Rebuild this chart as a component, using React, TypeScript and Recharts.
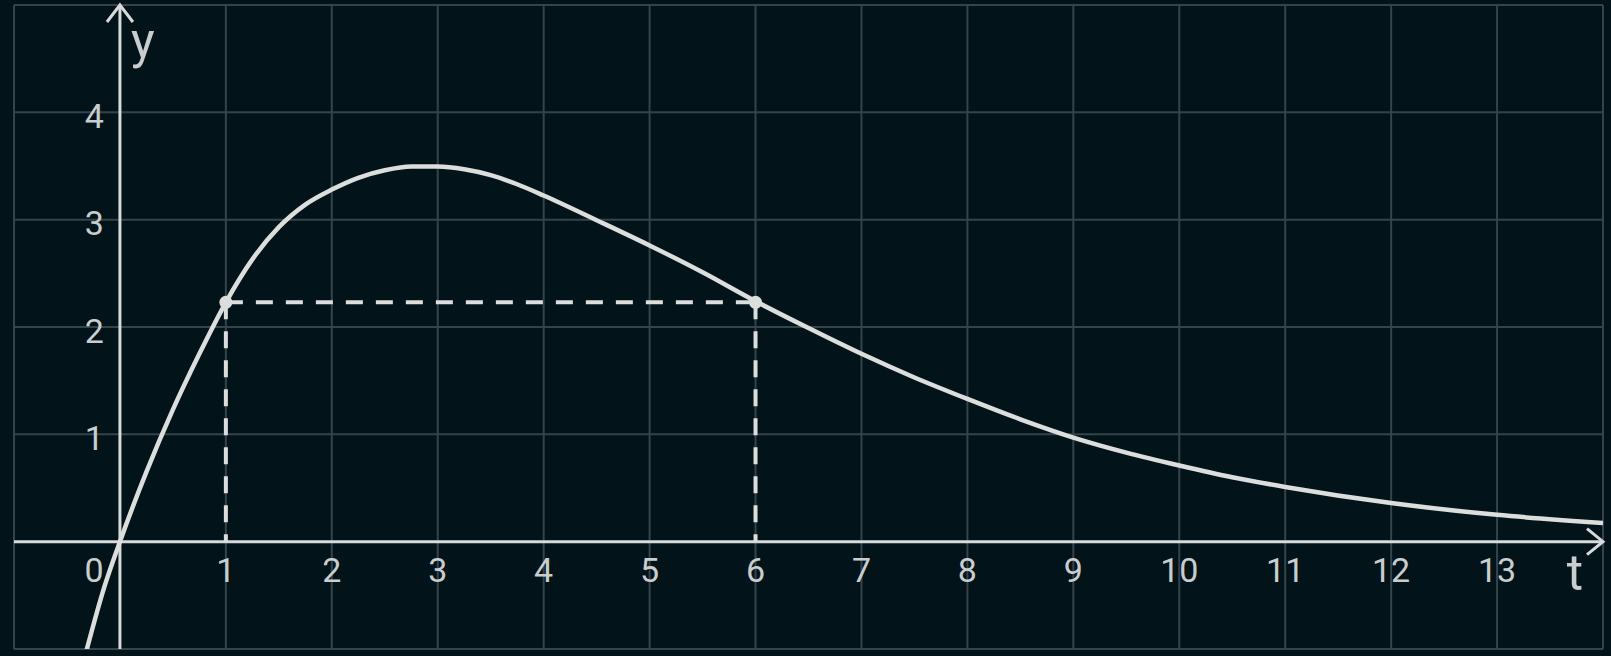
import {
  ComposedChart,
  Line,
  XAxis,
  YAxis,
  ReferenceLine,
  ReferenceDot,
} from 'recharts'

// curve y(t)
const tValues = [-0.32, -0.15, 0, 0.25, 0.5, 0.75, 1, 1.25, 1.5, 1.75, 2, 2.25, 2.5, 2.75, 3, 3.25, 3.5, 3.75, 4, 4.5, 5, 5.5, 6, 6.5, 7, 7.5, 8, 8.5, 9, 9.5, 10, 10.5, 11, 12, 13, 14]
const yValues = [-1.03, -0.43, 0, 0.65, 1.23, 1.75, 2.23, 2.63, 2.93, 3.14, 3.28, 3.39, 3.46, 3.495, 3.495, 3.47, 3.415, 3.33, 3.225, 2.995, 2.76, 2.51, 2.24, 1.99, 1.75, 1.53, 1.33, 1.14, 0.97, 0.83, 0.71, 0.6, 0.51, 0.36, 0.25, 0.175]

// marked points with the same value
const markT = [1, 6]
const markY = 2.23

const xGrid = [-1, 0, 1, 2, 3, 4, 5, 6, 7, 8, 9, 10, 11, 12, 13, 14]
const yGrid = [-1, 0, 1, 2, 3, 4, 5]
const xTickLabels = ['0', '1', '2', '3', '4', '5', '6', '7', '8', '9', '10', '11', '12', '13']
const yTickLabels = ['1', '2', '3', '4']

const BG = '#03131a'
const GRID = '#34444a'
const AXIS = '#d6dada'
const CURVE = '#dcdede'
const TEXT = '#c9cdcd'
const FONT = 'Roboto, "Open Sans", sans-serif'

const curve = tValues.map((t, i) => ({ t, y: yValues[i] }))

const textShape = (text: string, dx: number, dy: number, size: number, anchor: string = 'middle') =>
  (p: any) => (
    <text
      x={p.cx + dx}
      y={p.cy + dy}
      fill={TEXT}
      fontSize={size}
      fontFamily={FONT}
      textAnchor={anchor}
    >
      {text}
    </text>
  )

const yArrow = (p: any) => (
  <polyline
    points={`${p.cx - 13},${p.cy + 17} ${p.cx},${p.cy} ${p.cx + 13},${p.cy + 17}`}
    fill="none"
    stroke={AXIS}
    strokeWidth={3}
  />
)

const xArrow = (p: any) => (
  <polyline
    points={`${p.cx - 16},${p.cy - 13} ${p.cx},${p.cy} ${p.cx - 16},${p.cy + 13}`}
    fill="none"
    stroke={AXIS}
    strokeWidth={3}
  />
)

export default function App() {
  return (
    <div style={{ position: 'absolute', left: 0, top: 0, width: 1611, height: 656, background: BG }}>
      <ComposedChart width={1611} height={656} data={curve} margin={{ top: 5, right: 8, bottom: 7, left: 14 }}>
        <XAxis type="number" dataKey="t" domain={[-1, 14]} ticks={xGrid} allowDataOverflow hide />
        <YAxis type="number" domain={[-1, 5]} ticks={yGrid} allowDataOverflow hide />

        {/* grid */}
        {xGrid.map((v) => (
          <ReferenceLine key={`gx${v}`} x={v} stroke={GRID} strokeWidth={2} ifOverflow="visible" />
        ))}
        {yGrid.map((v) => (
          <ReferenceLine key={`gy${v}`} y={v} stroke={GRID} strokeWidth={2} ifOverflow="visible" />
        ))}

        {/* axes */}
        <ReferenceLine x={0} stroke={AXIS} strokeWidth={3} ifOverflow="visible" />
        <ReferenceLine y={0} stroke={AXIS} strokeWidth={3} ifOverflow="visible" />
        <ReferenceDot x={0} y={5} r={0} ifOverflow="visible" shape={yArrow} />
        <ReferenceDot x={14} y={0} r={0} ifOverflow="visible" shape={xArrow} />

        {/* dashed guides */}
        <ReferenceLine
          segment={[{ x: markT[0], y: markY }, { x: markT[1], y: markY }]}
          stroke={CURVE}
          strokeWidth={4}
          strokeDasharray="17 13"
          ifOverflow="visible"
        />
        {markT.map((t) => (
          <ReferenceLine
            key={`v${t}`}
            segment={[{ x: t, y: markY }, { x: t, y: 0 }]}
            stroke={CURVE}
            strokeWidth={4}
            strokeDasharray="17 12"
            ifOverflow="visible"
          />
        ))}

        <Line
          type="monotone"
          dataKey="y"
          stroke={CURVE}
          strokeWidth={4.5}
          dot={false}
          activeDot={false}
          isAnimationActive={false}
        />

        {markT.map((t) => (
          <ReferenceDot key={`d${t}`} x={t} y={markY} r={6.5} fill={CURVE} stroke="none" ifOverflow="visible" />
        ))}

        {/* tick labels */}
        {xTickLabels.map((s) => (
          <ReferenceDot
            key={`lx${s}`}
            x={Number(s)}
            y={0}
            r={0}
            ifOverflow="visible"
            shape={textShape(s, s === '0' ? -26 : 0, 40, 34)}
          />
        ))}
        {yTickLabels.map((s) => (
          <ReferenceDot
            key={`ly${s}`}
            x={0}
            y={Number(s)}
            r={0}
            ifOverflow="visible"
            shape={textShape(s, -16, 15.5, 34, 'end')}
          />
        ))}
        <ReferenceDot x={0} y={5} r={0} ifOverflow="visible" shape={textShape('y', 23, 53, 50)} />
        <ReferenceDot x={14} y={0} r={0} ifOverflow="visible" shape={textShape('t', -28, 48, 50)} />
      </ComposedChart>
    </div>
  )
}
